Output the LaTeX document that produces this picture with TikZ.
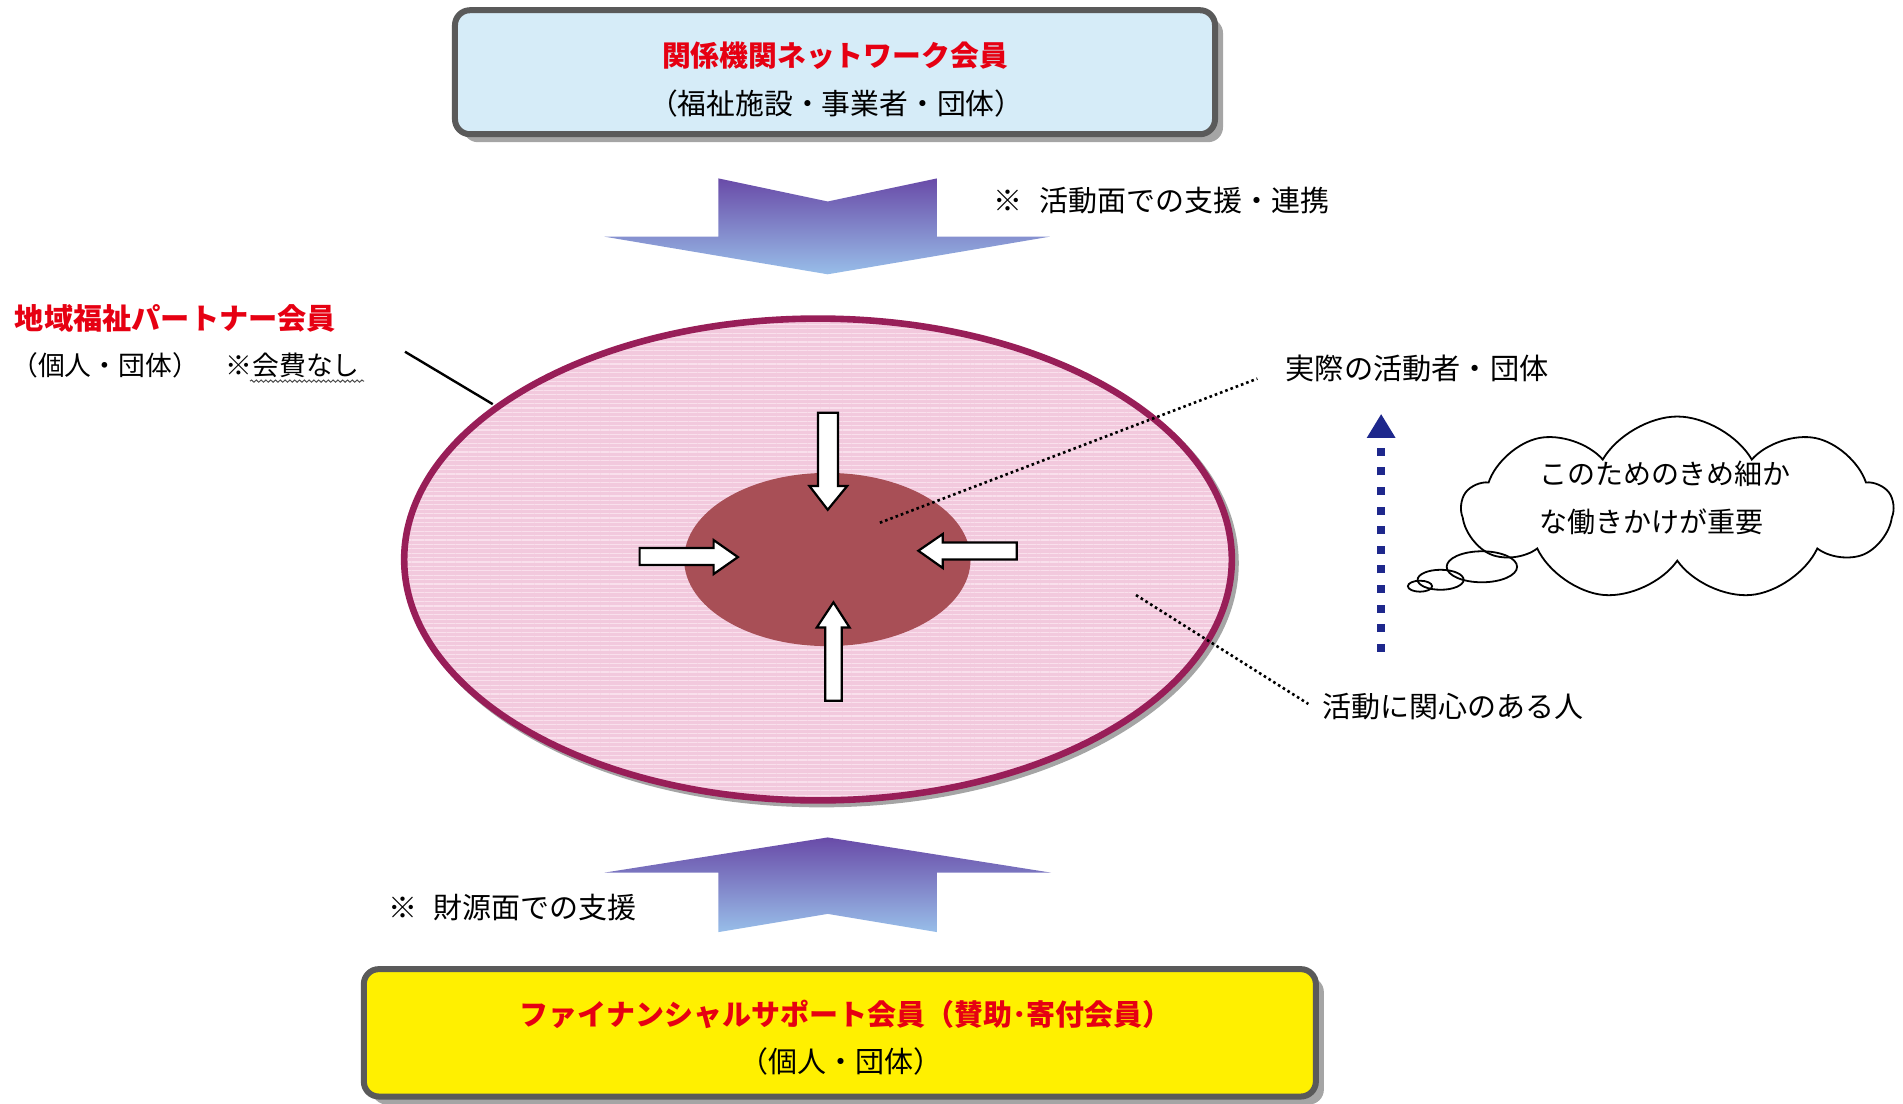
\documentclass[tikz,border=0pt]{standalone}
\usepackage{fontspec}
\setmainfont{Noto Sans CJK JP}
\usetikzlibrary{shapes.geometric,shapes.symbols,shadows,decorations.pathmorphing,arrows.meta,patterns.meta}
\definecolor{boxblue}{RGB}{214,236,248}
\definecolor{boxborder}{RGB}{90,90,90}
\definecolor{shadowgray}{RGB}{165,165,165}
\definecolor{titlered}{RGB}{230,0,18}
\definecolor{boxyellow}{RGB}{255,240,0}
\definecolor{rimcolor}{RGB}{152,30,88}
\definecolor{pinkfill}{RGB}{242,201,221}
\definecolor{pinkline}{RGB}{249,224,236}
\definecolor{corecolor}{RGB}{168,79,86}
\definecolor{navyblue}{RGB}{30,40,140}
\definecolor{arrowtop}{RGB}{105,75,168}
\definecolor{arrowbot}{RGB}{152,190,233}
\begin{document}
\begin{tikzpicture}[x=0.6068pt,y=-0.6068pt,
  membox/.style={draw=boxborder, line width=3pt, rounded corners=7.5pt, inner sep=0pt,
    drop shadow={shadow xshift=4pt, shadow yshift=-4pt, fill=shadowgray, opacity=1}},
  titletext/.style={text=titlered, font=\bfseries\fontsize{14.4}{16}\selectfont, inner sep=0pt},
  subtext/.style={font=\fontsize{14.4}{16}\selectfont, inner sep=0pt},
  labeltext/.style={font=\fontsize{14.2}{16}\selectfont, anchor=west, inner sep=0pt},
  whitearrow/.style={fill=white, draw=black, line width=1.1pt, line join=miter},
  dotline/.style={line width=1.3pt, dash pattern=on 1.3pt off 1.5pt},
  gradarrow/.style={top color=arrowtop, bottom color=arrowbot},
  bubble/.style={ellipse, draw=black, line width=0.9pt, inner sep=0pt},
]
\useasboundingbox (0,0) rectangle (1568,909);

% ---- top box
\node[membox, fill=boxblue, minimum width=380pt, minimum height=62pt] (network) at (688,59.5) {};
\node[titletext] (networktitle) at (688,46) {関係機関ネットワーク会員};
\node[subtext] (networksub) at (689,85) {（福祉施設・事業者・団体）};

% ---- down arrow
\shade[gradarrow] (592,147) -- (682,166) -- (772,147) -- (772,195) -- (865,195)
  -- (682,226) -- (498,195) -- (592,195) -- cycle;
\node[labeltext, font=\fontsize{14.5}{16}\selectfont] (activitysupport) at (818,165) {※\hspace{0.6em}活動面での支援・連携};

% ---- partner label
\node[labeltext, text=titlered, font=\bfseries\fontsize{14.6}{16}\selectfont] (partnertitle) at (12,262) {地域福祉パートナー会員};
\node[labeltext, font=\fontsize{13.4}{16}\selectfont] (partnersub) at (9,301) {（個人・団体）　※会費なし};
\coordinate (wavyA) at (206,314);
\coordinate (wavyB) at (300,314);
\draw[decorate, decoration={snake, amplitude=0.55pt, segment length=2.4pt}, line width=0.5pt, black!70] (wavyA) -- (wavyB);

% ---- big ellipse
\node[ellipse, draw=shadowgray, line width=3.3pt, minimum width=413.8pt, minimum height=240.9pt, inner sep=0pt] (outershadow) at (677,464) {};
\node[ellipse, fill=pinkfill, minimum width=413.8pt, minimum height=240.9pt, inner sep=0pt,
  postaction={pattern={Lines[angle=0,distance=2.2pt,line width=0.55pt]}, pattern color=pinkline}] (outer) at (674,461) {};
\node[ellipse, draw=rimcolor, line width=3.3pt, minimum width=413.8pt, minimum height=240.9pt, inner sep=0pt] (outerrim) at (outer.center) {};

\coordinate (partnerlineA) at (333.7,289.8);
\coordinate (partnerlineB) at (406,333);
\draw[line width=1.2pt] (partnerlineA) -- (partnerlineB);

% ---- core ellipse
\node[ellipse, fill=corecolor, minimum width=143.2pt, minimum height=86.6pt, inner sep=0pt] (core) at (681.7,461) {};

% ---- white arrows
\draw[whitearrow] (674,340) -- (690.5,340) -- (690.5,400.5) -- (698,400.5) -- (682,420) -- (667,400.5) -- (674,400.5) -- cycle;
\draw[whitearrow] (527,451.6) -- (588,451.6) -- (588,445) -- (608,459) -- (588,473) -- (588,465.6) -- (527,465.6) -- cycle;
\draw[whitearrow] (837.7,447) -- (776.8,447) -- (776.8,440) -- (756.7,453.8) -- (776.8,468) -- (776.8,461) -- (837.7,461) -- cycle;
\draw[whitearrow] (680,577.3) -- (693.5,577.3) -- (693.5,517) -- (700,517) -- (686.7,496.3) -- (673,517) -- (680,517) -- cycle;

% ---- labels with dotted leaders
\node[labeltext, font=\fontsize{14.6}{16}\selectfont] (actual) at (1059,304) {実際の活動者・団体};
\coordinate (dotA1) at (725,430.7);
\coordinate (dotA2) at (1036,312);
\draw[dotline] (dotA1) -- (dotA2);

\node[labeltext, font=\fontsize{14.5}{16}\selectfont] (interested) at (1089,582) {活動に関心のある人};
\coordinate (dotB1) at (936,490.3);
\coordinate (dotB2) at (1078,580);
\draw[dotline] (dotB1) -- (dotB2);

% ---- blue dotted arrow
\coordinate (blueA) at (1138,537);
\coordinate (blueB) at (1138,341);
\draw[navyblue, line width=4pt, dash pattern=on 4pt off 5.8pt, -{Triangle[width=13.5pt,length=12pt]}] (blueA) -- (blueB);

% ---- cloud
\node[cloud, draw=black, line width=0.9pt, cloud puffs=9, cloud puff arc=120, aspect=2.3,
  minimum width=215pt, minimum height=92pt, inner sep=0pt] (thought) at (1382,419) {};
\node[bubble, minimum width=35.2pt, minimum height=15.5pt] (bubbleL) at (1221,467) {};
\node[bubble, minimum width=23pt, minimum height=10pt] (bubbleM) at (1187,477.7) {};
\node[bubble, minimum width=12.1pt, minimum height=5.5pt] (bubbleS) at (1170,483) {};
\node[labeltext, font=\fontsize{14}{16}\selectfont] (cloudline1) at (1268,390) {このためのきめ細か};
\node[labeltext, font=\fontsize{14}{16}\selectfont] (cloudline2) at (1268,430) {な働きかけが重要};

% ---- up arrow
\shade[gradarrow] (682,690) -- (866,719) -- (772,719) -- (772,768) -- (682,753)
  -- (592,768) -- (592,719) -- (498,719) -- cycle;
\node[labeltext, font=\fontsize{14.5}{16}\selectfont] (fundsupport) at (320,748) {※\hspace{0.55em}財源面での支援};

% ---- bottom box
\node[membox, fill=boxyellow, minimum width=476pt, minimum height=63.7pt] (finance) at (692,851) {};
\node[titletext, font=\bfseries\fontsize{14.5}{16}\selectfont] (financetitle) at (697,836) {ファイナンシャルサポート会員（賛助･寄付会員）};
\node[subtext, font=\fontsize{14.5}{16}\selectfont] (financesub) at (693,875) {（個人・団体）};
\end{tikzpicture}
\end{document}
